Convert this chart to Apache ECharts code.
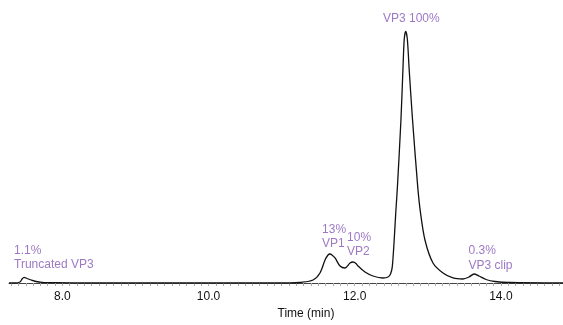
<!DOCTYPE html>
<html>
<head>
<meta charset="utf-8">
<script src="https://cdn.jsdelivr.net/npm/echarts@6/dist/echarts.min.js"></script>
<style>
html,body{margin:0;padding:0;background:#fff;}
#chart{width:563px;height:325px;}
</style>
</head>
<body>
<div id="chart"></div>
<script>
// Chromatogram trace: retention time (min) and relative signal (% of VP3 peak)
var traceTime = [7.27, 7.353, 7.421, 7.449, 7.476, 7.517, 7.572, 7.640, 7.722, 7.900, 8.379,
  11.115, 11.252, 11.430, 11.525, 11.594, 11.635, 11.662, 11.689, 11.731, 11.799, 11.867,
  11.936, 11.977, 12.018, 12.045, 12.141, 12.250, 12.387, 12.456, 12.490, 12.514, 12.540,
  12.562, 12.584, 12.633, 12.660, 12.678, 12.698, 12.720, 12.745, 12.791, 12.863, 12.900,
  12.962, 13.071, 13.208, 13.345, 13.481, 13.564, 13.632, 13.700, 13.796, 13.919, 14.124, 14.85];
var traceSignal = [0, 0, 0.40, 1.59, 2.27, 1.79, 1.19, 0.60, 0.28, 0.12, 0,
  0, 0.20, 1.19, 3.98, 9.14, 11.13, 11.53, 11.13, 9.94, 6.76, 5.96,
  7.95, 8.35, 7.75, 6.76, 4.37, 2.78, 1.99, 2.39, 3.58, 6.40, 17.0,
  28.0, 38.0, 65.0, 85.0, 97.0, 100, 97.0, 85.0, 65.0, 38.0, 28.0,
  17.0, 7.95, 3.98, 1.99, 1.59, 2.39, 3.58, 2.78, 1.39, 0.60, 0.20, 0];

// Tick labels on the time axis
var tickLabels = [8, 10, 12, 14];

// Peak annotations (anchor = top-left of text, in data units)
var annText  = ['1.1%\nTruncated VP3', '13%\nVP1', '10%\nVP2', 'VP3 100%', '0.3%\nVP3 clip'];
var annTime  = [7.339, 11.553, 11.895, 12.387, 13.557];
var annValue = [15.9, 24.25, 20.9, 107.75, 15.7];

var minorTicks = [];
for (var k = 73; k <= 148; k++) minorTicks.push(k / 10);

var chart = echarts.init(document.getElementById('chart'), null, {renderer: 'canvas'});
var FONT = '"Liberation Sans", Arial, Helvetica, sans-serif';
var purple = '#8457b6';

chart.setOption({
  animation: false,
  backgroundColor: '#ffffff',
  grid: {left: 9, right: 0, top: 10, bottom: 42, containLabel: false},
  xAxis: {
    type: 'value',
    min: 7.27,
    max: 14.85,
    name: 'Time (min)',
    nameLocation: 'middle',
    nameGap: 23,
    nameTextStyle: {fontFamily: FONT, fontSize: 12, color: '#111', padding: [0, 0, 0, 40]},
    axisLine: {show: true, lineStyle: {color: '#444', width: 1}},
    axisTick: {show: true, customValues: minorTicks, length: 3, lineStyle: {color: '#aaa', width: 1}},
    axisLabel: {
      customValues: tickLabels,
      margin: 8,
      fontFamily: FONT, fontSize: 12, color: '#111',
      formatter: function (v) { return v.toFixed(1); }
    },
    splitLine: {show: false}
  },
  yAxis: {
    type: 'value',
    min: 0,
    max: 108.5,
    show: false,
    splitLine: {show: false}
  },
  series: [
    {
      type: 'line',
      data: traceTime.map(function (t, i) { return [t, traceSignal[i]]; }),
      showSymbol: false,
      smooth: 0.3,
      lineStyle: {color: '#111', width: 1.3},
      z: 3
    },
    {
      type: 'scatter',
      symbolSize: 0,
      data: annTime.map(function (t, i) { return {value: [t, annValue[i]], name: annText[i]}; }),
      label: {
        show: true,
        position: [0, 0],
        align: 'left',
        verticalAlign: 'top',
        formatter: function (p) { return p.name; },
        fontFamily: FONT,
        fontSize: 12,
        lineHeight: 14.5,
        color: purple
      },
      silent: true,
      z: 4
    }
  ]
});
</script>
</body>
</html>
